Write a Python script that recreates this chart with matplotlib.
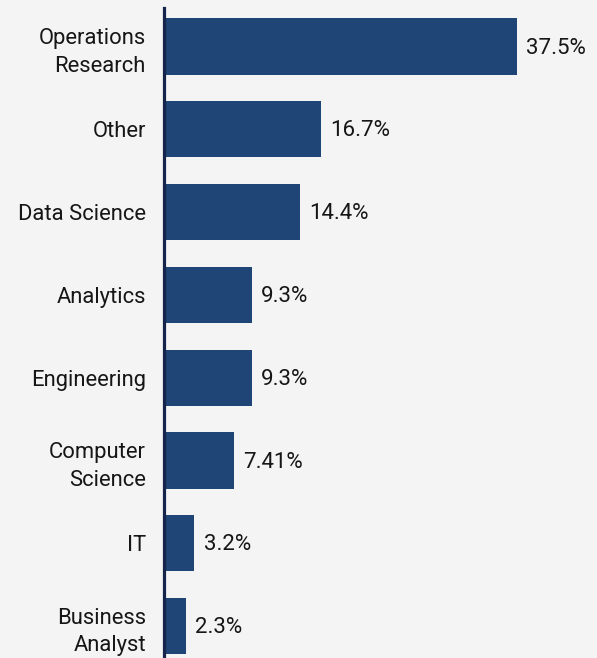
#!/usr/bin/env python3
import numpy as np
import matplotlib
matplotlib.use('Agg')
import matplotlib.pyplot as plt

# job field shares, top to bottom
categories = [
	'Operations\nResearch',
	'Other',
	'Data Science',
	'Analytics',
	'Engineering',
	'Computer\nScience',
	'IT',
	'Business\nAnalyst',
]
shares = [37.5, 16.7, 14.4, 9.3, 9.3, 7.41, 3.2, 2.3]
share_labels = ['37.5%', '16.7%', '14.4%', '9.3%', '9.3%', '7.41%', '3.2%', '2.3%']

BG = '#f4f4f4'
BAR = '#1f4576'
AXIS = '#14244a'
TEXT = '#161616'

plt.rcParams['font.family'] = ['Roboto', 'DejaVu Sans']

fig = plt.figure(figsize=(5.97, 6.58), dpi=100, facecolor=BG)
ax = fig.add_axes([164 / 597, 0, 1 - 164 / 597, 650 / 658])
ax.set_facecolor(BG)

y_pos = np.arange(len(categories))
ax.barh(y_pos, shares, height=0.68, color=BAR, edgecolor='none')

# value labels just past the bar ends
for y, v, lab in zip(y_pos, shares, share_labels):
	ax.text(v + 1.0, y + 0.02, lab, va='center', ha='left', fontsize=16, color=TEXT)

ax.set_yticks(y_pos)
ax.set_yticklabels(categories, fontsize=15.8, color=TEXT, ha='right', linespacing=1.42)
ax.tick_params(axis='y', length=0, pad=13)
ax.set_xticks([])
ax.set_xlim(0, 46)
ax.set_ylim(7.385, -0.465)

for side in ('top', 'right', 'bottom'):
	ax.spines[side].set_visible(False)
ax.spines['left'].set_color(AXIS)
ax.spines['left'].set_linewidth(2.3)

fig.savefig('out.png', dpi=100, facecolor=BG)
